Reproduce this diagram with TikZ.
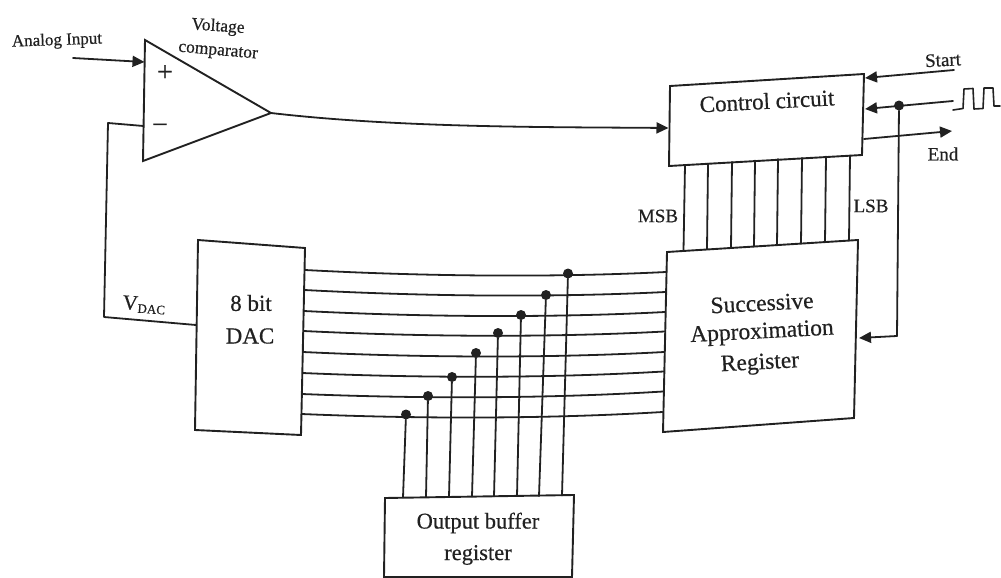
\documentclass[tikz,border=0pt]{standalone}
\usepackage{fontspec}
\setmainfont[RawFeature={embolden=0.5}]{Liberation Serif}
\usetikzlibrary{arrows.meta,calc}
\definecolor{ink}{gray}{0.13}
\newcommand{\fs}[1]{\fontsize{#1}{#1}\selectfont}
\tikzset{
  wire/.style={draw=ink,line width=1.8pt,line cap=round,line join=round},
  boxline/.style={draw=ink,line width=1.9pt,line join=miter},
  arrowed/.style={wire,-{Triangle[length=12pt,width=11pt]}},
  label/.style={text=ink,inner sep=0pt,align=center},
  junction/.style={circle,fill=ink,inner sep=0pt,minimum size=10pt},
}
\begin{document}
\begin{tikzpicture}[x=1pt,y=-1pt]
\useasboundingbox (0,0) rectangle (1001,578);
% corners
\coordinate (ta) at (145,40); \coordinate (tb) at (143,161); \coordinate (tout) at (271,113);
\coordinate (plusin) at (144.5,62); \coordinate (minusin) at (143.5,126);
\coordinate (cTL) at (670,86); \coordinate (cTR) at (864,74); \coordinate (cBR) at (862,155); \coordinate (cBL) at (669,166);
\coordinate (sTL) at (667,252); \coordinate (sTR) at (858,240); \coordinate (sBR) at (854,418); \coordinate (sBL) at (663,432);
\coordinate (dTL) at (198,240); \coordinate (dTR) at (305,248); \coordinate (dBR) at (301,435); \coordinate (dBL) at (195,430);
\coordinate (oTL) at (385,498); \coordinate (oTR) at (574,495); \coordinate (oBR) at (572,577); \coordinate (oBL) at (384,577);
% free ends and bends
\coordinate (ain) at (73,58);
\coordinate (fb1) at (108,123); \coordinate (fb2) at (104,317); \coordinate (fb3) at (196,325);
\coordinate (cin) at (668.5,128);
\coordinate (st0) at (954,70); \coordinate (st1) at (865,78);
\coordinate (ck0) at (953,101); \coordinate (ck1) at (865,109);
\coordinate (en0) at (864,139); \coordinate (en1) at (952,131);
\coordinate (clkdn) at (897,336); \coordinate (sarin) at (859,338);
% triangle and boxes
\draw[boxline] (ta) -- (tout) -- (tb) -- cycle;
\draw[boxline] (cTL) -- (cTR) -- (cBR) -- (cBL) -- cycle;
\draw[boxline] (sTL) -- (sTR) -- (sBR) -- (sBL) -- cycle;
\draw[boxline] (dTL) -- (dTR) -- (dBR) -- (dBL) -- cycle;
\draw[boxline] (oTL) -- (oTR) -- (oBR) -- (oBL) -- cycle;
% comparator connectors
\draw[arrowed] (ain) -- (plusin);
\draw[wire] (minusin) -- (fb1) -- (fb2) -- (fb3);
\draw[arrowed] (tout) .. controls (400,128) and (550,127) .. (cin);
% control connectors
\draw[arrowed] (st0) -- (st1);
\node[junction] (clkdot) at (899,105.5) {};
\draw[arrowed] (ck0) -- (ck1);
\draw[wire] (clkdot) -- (clkdn);
\draw[arrowed] (clkdn) -- (sarin);
\draw[arrowed] (en0) -- (en1);
% clock pulse
\draw[wire,line width=1.6pt] (953,110) -- (963,108.5) -- (964,89) -- (973,88.5) -- (974,109) -- (983,108.5) -- (984,88) -- (993,88) -- (994,106) -- (1000,106);
% control to SAR lines
\foreach \i/\xa/\ya/\xb/\yb in {1/685/165/683.5/250.5,2/708/163.5/707/249,3/732/162/731/247.5,4/755/160.5/754/246.5,5/778/159/777/245,6/802/158/801/243.5,7/826/156.5/825/242,8/850/155.5/849/240.5}{
  \coordinate (cs\i a) at (\xa,\ya);
  \coordinate (cs\i b) at (\xb,\yb);
  \draw[wire] (cs\i a) -- (cs\i b);
}
% DAC to SAR bus
\foreach \i/\xa/\ya/\xb/\yb in {1/305/270/666/272,2/304.5/290/665.5/292,3/304/311/665/312,4/303.5/331/664.5/331.5,5/303/352/664/352,6/302.5/373/663.5/371.5,7/302/394/663/391.5,8/301.5/414/662.5/412}{
  \coordinate (l\i) at (\xa,\ya);
  \coordinate (r\i) at (\xb,\yb);
  \draw[wire] (l\i) .. controls ($(l\i)!0.35!(r\i)+(0,6)$) and ($(l\i)!0.7!(r\i)+(0,6)$) .. (r\i);
}
% output register taps
\foreach \i/\xd/\yd/\xb/\yb in {1/406/414.5/403/497.5,2/428/396/426/497,3/452/377/449/497,4/476/353/472/496.5,5/498/333/494/496.5,6/521/315/517/496,7/546/295/539/496,8/568/273.5/562/495.5}{
  \node[junction] (tap\i) at (\xd,\yd) {};
  \coordinate (ob\i) at (\xb,\yb);
  \draw[wire] (tap\i) -- (ob\i);
}
% labels
\node[label,rotate=2] (ainl) at (57,41) {\fs{17}Analog Input};
\node[label,rotate=-4] (vl) at (218,27) {\fs{17.5}Voltage};
\node[label,rotate=-5] (cl) at (218,52) {\fs{17.5}comparator};
\node[label] (plus) at (165,73) {\fs{28}+};
\node[label] (minus) at (160,127) {\fs{26}–};
\node[label,rotate=3] (ctrl) at (767,101) {\fs{23}Control circuit};
\node[label,rotate=3] (start) at (943,60) {\fs{19}Start};
\node[label] (endl) at (943,154) {\fs{19}End};
\node[label] (msb) at (658,216) {\fs{19}MSB};
\node[label] (lsb) at (871,206) {\fs{19}LSB};
\node[label,rotate=-4] (vdac) at (144,305) {\fs{21}V\raisebox{-2.5pt}{\fs{13}DAC}};
\node[label] (dbit) at (251,303) {\fs{23}8 bit};
\node[label] (ddac) at (250,336) {\fs{23}DAC};
\node[label,rotate=3] (s1) at (762,303) {\fs{23.5}Successive};
\node[label,rotate=3] (s2) at (762,333) {\fs{23.5}Approximation};
\node[label,rotate=3] (s3) at (760,364) {\fs{23.5}Register};
\node[label] (o1) at (478,523) {\fs{22.5}Output buffer};
\node[label] (o2) at (478,555) {\fs{22.5}register};
\end{tikzpicture}
\end{document}
